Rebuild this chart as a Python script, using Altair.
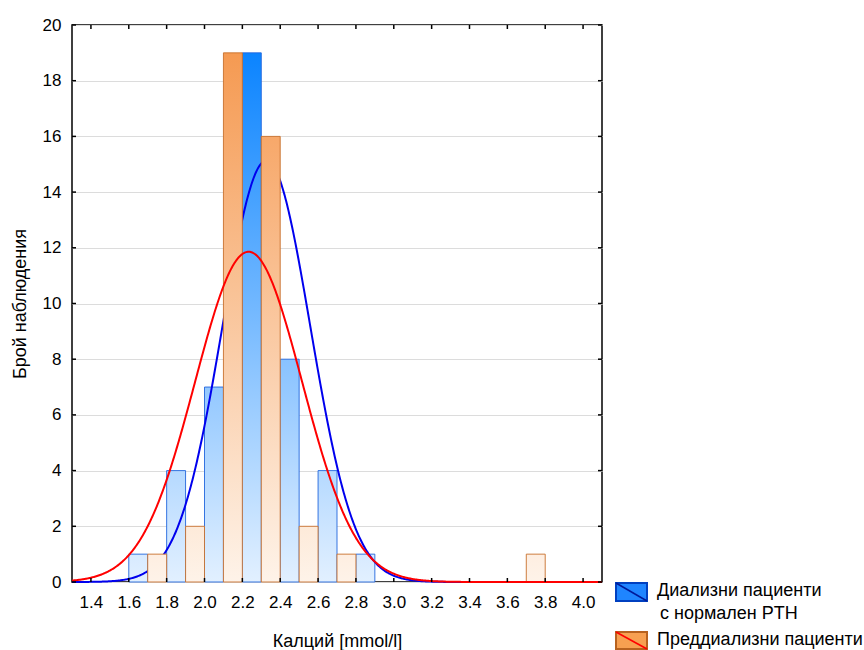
import altair as alt
import pandas as pd

# ---- data ----
blue_left = [1.6, 1.8, 2.0, 2.2, 2.4, 2.6, 2.8]
blue_counts = [1, 4, 7, 19, 8, 4, 1]
orange_left = [1.7, 1.9, 2.1, 2.3, 2.5, 2.7, 3.7]
orange_counts = [1, 2, 19, 16, 2, 1, 1]
bar_width = 0.1
bin_width = 0.2

blue_mean, blue_sd = 2.327, 0.232
red_mean, red_sd = 2.233, 0.2826

x_ticks = [1.4, 1.6, 1.8, 2.0, 2.2, 2.4, 2.6, 2.8, 3.0, 3.2, 3.4, 3.6, 3.8, 4.0]
y_ticks = [0, 2, 4, 6, 8, 10, 12, 14, 16, 18, 20]

legend_labels = ["Диализни пациенти", "с нормален PTH", "Преддиализни пациенти"]
x_title = "Калций [mmol/l]"
y_title = "Брой наблюдения"

# ---- layout / style ----
W, H = 530, 557
FONT = "Liberation Sans"
xs = alt.Scale(domain=[1.3, 4.1], nice=False, zero=False)
ys = alt.Scale(domain=[0, 20], nice=False)

X_AX = alt.Axis(
    values=x_ticks, format=".1f", grid=False, ticks=False, domain=False,
    labelFontSize=17, labelPadding=12, labelColor="black", labelFont=FONT,
    title=x_title, titleFontSize=18, titleFontWeight="normal", titleFont=FONT, titleColor="black",
    titleBaseline="alphabetic", titleY=64, titleX=W / 2, titleAlign="center")
Y_AX = alt.Axis(
    values=y_ticks, grid=True, gridColor="#dcdcdc", gridWidth=1, ticks=False, domain=False,
    labelFontSize=17, labelPadding=11, labelColor="black", labelFont=FONT,
    title=y_title, titleFontSize=18, titleFontWeight="normal", titleFont=FONT, titleColor="black",
    titleAngle=270, titleBaseline="alphabetic", titleAlign="center", titleX=-47, titleY=H / 2)


def X(field):
    return alt.X(field, scale=xs, axis=X_AX)


def Y(field):
    return alt.Y(field, scale=ys, axis=Y_AX)


blue_dark, blue_light = (0, 126, 255), (226, 240, 255)
orange_dark, orange_light = (245, 149, 74), (254, 243, 233)


def mix(light, dark, t):
    return "#%02x%02x%02x" % tuple(round(a + (b - a) * t) for a, b in zip(light, dark))


def bar_layers(lefts, counts, light, dark, stroke):
    layers = []
    for l, c in zip(lefts, counts):
        df = pd.DataFrame({"x0": [l], "x1": [round(l + bar_width, 3)], "n": [c]})
        grad = alt.Gradient(
            gradient="linear", x1=0, y1=0, x2=0, y2=1,
            stops=[alt.GradientStop(color=mix(light, dark, c / 20), offset=0),
                   alt.GradientStop(color=mix(light, dark, 0), offset=1)],
        )
        layers.append(
            alt.Chart(df).mark_rect(fill=grad, stroke=stroke, strokeWidth=1, strokeOpacity=0.9).encode(
                x=X("x0:Q"), x2="x1:Q", y=Y("n:Q"), y2=alt.datum(0),
            )
        )
    return layers


def curve(n, mean, sd, color):
    return (
        alt.Chart(alt.sequence(1.3, 4.1001, 0.004, as_="x"))
        .transform_calculate(y=f"{n}*{bin_width}*densityNormal(datum.x, {mean}, {sd})")
        .mark_line(color=color, strokeWidth=2)
        .encode(x=X("x:Q"), y=Y("y:Q"))
    )


xt = pd.DataFrame({"v": x_ticks})
yt = pd.DataFrame({"v": y_ticks})
tick_style = dict(color="black", strokeWidth=1.5)
ticks = [
    alt.Chart(xt).mark_rule(**tick_style).encode(x=X("v:Q"), y=alt.value(H), y2=alt.value(H - 4)),
    alt.Chart(xt).mark_rule(**tick_style).encode(x=X("v:Q"), y=alt.value(0), y2=alt.value(4)),
    alt.Chart(yt).mark_rule(**tick_style).encode(y=Y("v:Q"), x=alt.value(0), x2=alt.value(4)),
    alt.Chart(yt).mark_rule(**tick_style).encode(y=Y("v:Q"), x=alt.value(W), x2=alt.value(W - 4)),
]

one = alt.Data(values=[{"a": 1}])
legend = [
    alt.Chart(one).mark_rect(fill="#1f85ff", stroke="#0040c0", strokeWidth=2).encode(
        x=alt.value(544), x2=alt.value(575), y=alt.value(558), y2=alt.value(576)),
    alt.Chart(one).mark_rule(color="#001a9a", strokeWidth=1.5).encode(
        x=alt.value(544), x2=alt.value(575), y=alt.value(558), y2=alt.value(576)),
    alt.Chart(one).mark_rect(fill="#f7a051", stroke="#b8621f", strokeWidth=2).encode(
        x=alt.value(544), x2=alt.value(575), y=alt.value(607), y2=alt.value(624)),
    alt.Chart(one).mark_rule(color="#ff0000", strokeWidth=1.5).encode(
        x=alt.value(544), x2=alt.value(575), y=alt.value(607), y2=alt.value(624)),
]
for label, (lx, ly) in zip(legend_labels, [(585, 566), (588, 589), (585, 615)]):
    legend.append(
        alt.Chart(one).mark_text(text=label, align="left", baseline="middle", fontSize=18, font=FONT, color="black").encode(
            x=alt.value(lx), y=alt.value(ly))
    )

layers = (
    bar_layers(blue_left, blue_counts, blue_light, blue_dark, "#2266dd")
    + [curve(sum(blue_counts), blue_mean, blue_sd, "#0000ee")]
    + bar_layers(orange_left, orange_counts, orange_light, orange_dark, "#c8702c")
    + [curve(sum(orange_counts), red_mean, red_sd, "#ff0000")]
    + ticks
    + legend
)

chart = (
    alt.layer(*layers)
    .properties(width=W, height=H, autosize=alt.AutoSizeParams(type="none"),
                padding={"left": 72, "top": 25, "right": 262, "bottom": 68}, background="white")
    .configure_view(stroke="black", strokeWidth=1.5)
)

chart.save("out.html", embed_options={"renderer": "svg", "actions": False})
